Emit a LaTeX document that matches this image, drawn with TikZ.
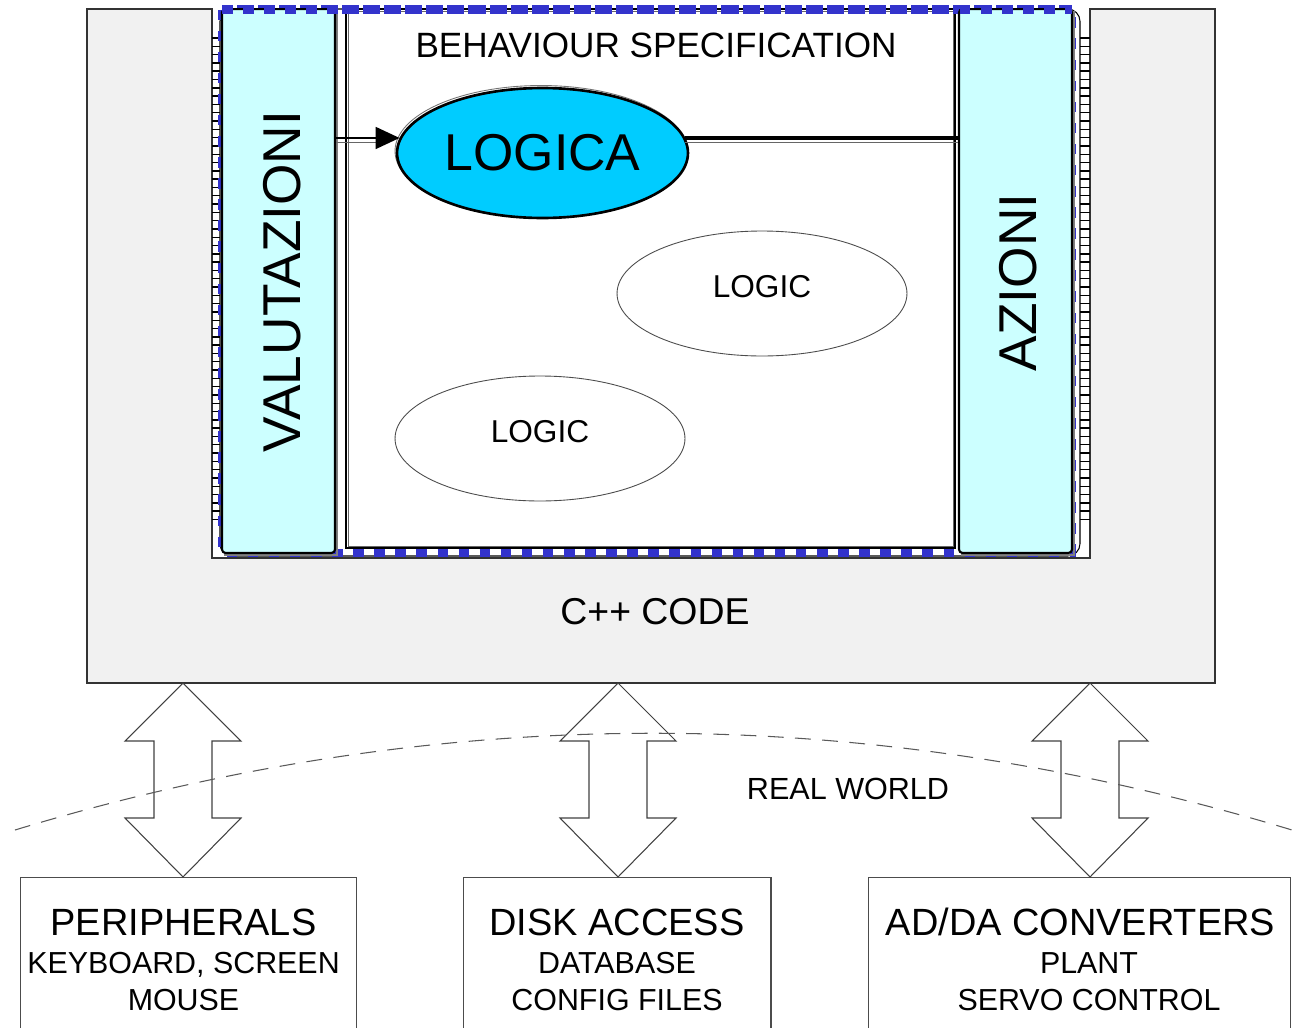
\documentclass[tikz,border=0pt]{standalone}
\usepackage{fontspec}
\setmainfont{Liberation Sans}
\usetikzlibrary{shapes.geometric,arrows.meta,calc}
\definecolor{cyanbox}{HTML}{CCFFFF}
\definecolor{logicblue}{HTML}{00CCFF}
\definecolor{panel}{HTML}{F1F1F1}
\definecolor{dashblue}{HTML}{3333CC}
\newcommand\fsz[1]{\fontsize{#1}{#1}\selectfont}
\newcommand\dblarrow[2]{\draw[blockarrow] (#1) -- ++(58,58) -- ++(-29,0) -- ($(#2)+(29,-59)$) -- ++(29,0) -- (#2) -- ++(-58,-59) -- ++(29,0) -- ($(#1)+(-29,58)$) -- ++(-29,0) -- cycle;}
\begin{document}
\begin{tikzpicture}[x=0.02cm,y=-0.02cm,
  column/.style={draw=black, line width=1.2pt, fill=cyanbox, minimum width=2.26cm, minimum height=10.88cm, inner sep=0pt},
  colshadow/.style={draw=black!50, line width=0.6pt},
  logicel/.style={ellipse, draw=black!70, line width=0.5pt, minimum width=5.8cm, minimum height=2.5cm, inner sep=0pt},
  logictext/.style={font=\fsz{18pt}, inner sep=0pt},
  bigel/.style={ellipse, draw=black, line width=1.5pt, fill=logicblue, minimum width=5.82cm, minimum height=2.6cm, inner sep=0pt, font=\fsz{29.5pt}},
  coltext/.style={rotate=90, font=\fsz{30.3pt}, inner sep=0pt},
  bottombox/.style={draw=black!70, line width=0.6pt, minimum height=3.4cm, anchor=north, inner sep=0pt},
  titletext/.style={anchor=base, font=\fsz{21.6pt}, inner sep=0pt},
  subtext/.style={anchor=base, font=\fsz{17.3pt}, inner sep=0pt},
  blockarrow/.style={draw=black!75, line width=0.6pt},
  worldline/.style={draw=black!65, line width=0.6pt, dash pattern=on 9pt off 6.5pt},
  rung/.style={draw=black, line width=0.8pt},
  bluedash/.style={draw=dashblue, line width=5pt, dash pattern=on 6pt off 6pt},
  ]
\useasboundingbox (0,0) rectangle (1292,1028);

% grey C++ panel (U shape)
\filldraw[fill=panel, draw=black!80, line width=0.8pt]
  (87,9) -- (212,9) -- (212,558) -- (1090,558) -- (1090,9) -- (1215,9) -- (1215,683) -- (87,683) -- cycle;

% thin rounded outline of the behaviour block
\draw[black, line width=0.6pt, rounded corners=7pt] (220,9) rectangle (1080,556);

% ladder strips
\foreach \yy in {38,46.3,...,520} {
  \draw[rung] (212,\yy) -- (220,\yy);
  \draw[rung] (1080,\yy) -- (1090,\yy);
}

% behaviour specification box (double line)
\node[draw=black, line width=0.7pt, minimum width=12.18cm, minimum height=10.78cm, inner sep=0pt, fill=white] (spec) at (650.5,278.5) {};
\draw[black!60, line width=0.5pt] (348,11) rectangle (953,546);
\node[font=\fsz{20pt}, inner sep=0pt] (spectitle) at (656,45) {BEHAVIOUR SPECIFICATION};

% blue dashed frame (sides and bottom lie under the columns)
\draw[bluedash] (222,9.5) rectangle (1072,553);

% columns
\draw[colshadow] (225,12) rectangle (337,555);
\node[column, rounded corners=2pt] (val) at (278.5,281) {};
\node[coltext] (valtext) at (282,281.5) {VALUTAZIONI};
\draw[colshadow] (962,12) rectangle (1074,555);
\node[column, rounded corners=2pt] (azi) at (1015.5,281) {};
\node[coltext] (azitext) at (1018,282.5) {AZIONI};

% top edge of the blue frame lies over the columns
\draw[bluedash] (222,9.5) -- (1072,9.5);

% ellipses
\draw[black!55, line width=0.5pt] (541,151) ellipse [x radius=2.92cm, y radius=1.31cm];
\node[bigel] (logica) at (542.5,153) {LOGICA};
\node[logicel] (logic1) at (762,293.5) {};
\node[logictext] (logic1t) at ([yshift=4pt]logic1.center) {LOGIC};
\node[logicel] (logic2) at (540,438.5) {};
\node[logictext] (logic2t) at ([yshift=4pt]logic2.center) {LOGIC};

% connectors
\draw[black!60, line width=0.5pt] ([yshift=-2.6pt]val.east |- logica.174) -- ([yshift=-2.6pt,xshift=-12pt]logica.174);
\draw[black, line width=1pt, -{Triangle[length=13.6pt,width=12.5pt]}] (val.east |- logica.174) -- (logica.174);
\draw[black!60, line width=0.5pt] ([yshift=-2.6pt]logica.6) -- ([yshift=-2.6pt]logica.6 -| azi.west);
\draw[black, line width=1.8pt] (logica.6) -- (logica.6 -| azi.west);

% C++ code label
\node[font=\fsz{21.3pt}, inner sep=0pt] (code) at (655,612) {C++ CODE};

% bottom boxes
\node[bottombox, minimum width=6.74cm] (p1) at (188.5,877) {};
\node[bottombox, minimum width=6.16cm] (p2) at (617,877) {};
\node[bottombox, minimum width=8.46cm] (p3) at (1079.5,877) {};

\node[titletext] (p1a) at (183.5,935) {PERIPHERALS};
\node[subtext] (p1b) at (183.5,973) {KEYBOARD, SCREEN};
\node[subtext] (p1c) at (183.5,1010) {MOUSE};
\node[titletext] (p2a) at (617,935) {DISK ACCESS};
\node[subtext] (p2b) at (617,973) {DATABASE};
\node[subtext] (p2c) at (617,1010) {CONFIG FILES};
\node[titletext] (p3a) at (1080.5,935) {AD/DA CONVERTERS};
\node[subtext] (p3b) at (1089,973) {PLANT};
\node[subtext] (p3c) at (1089,1010) {SERVO CONTROL};

% block arrows between C++ code and the real world
\coordinate (t1) at (183,683); \coordinate (b1) at (183,877);
\coordinate (t2) at (618,683); \coordinate (b2) at (618,877);
\coordinate (t3) at (1090,683); \coordinate (b3) at (1090,877);
\dblarrow{t1}{b1}
\dblarrow{t2}{b2}
\dblarrow{t3}{b3}

% real world boundary
\coordinate (wl) at (15,830);
\coordinate (wr) at (1292,830);
\draw[worldline] (wl) .. controls (440,701) and (866,701) .. (wr);
\node[font=\fsz{17.4pt}, inner sep=0pt] (world) at (848,789) {REAL WORLD};
\end{tikzpicture}
\end{document}
